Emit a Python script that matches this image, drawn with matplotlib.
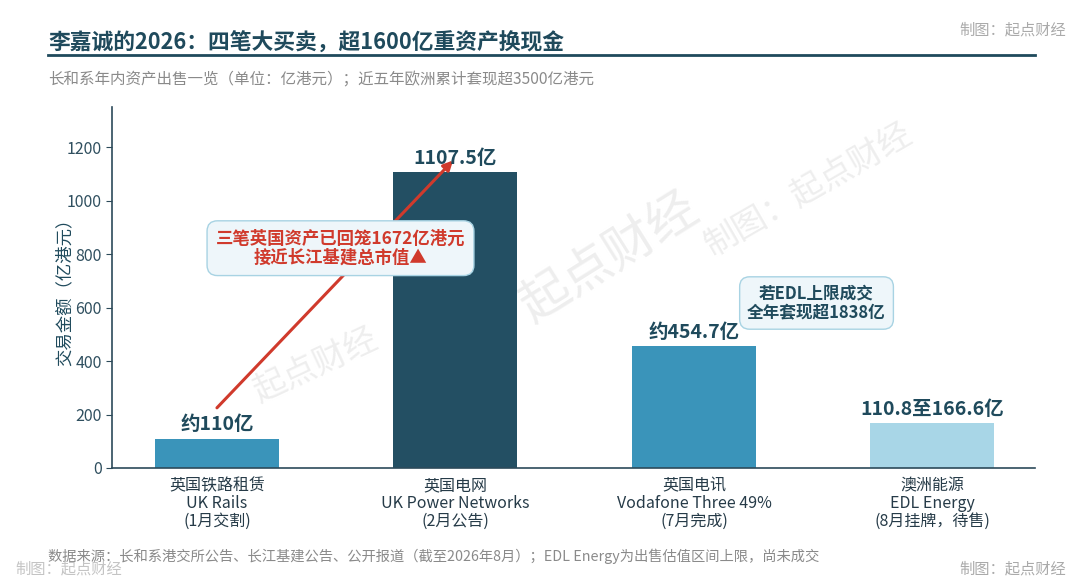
import matplotlib
matplotlib.use('Agg')

import matplotlib.pyplot as plt
from matplotlib.lines import Line2D

plt.rcParams['font.family'] = ['Noto Sans CJK SC', 'DejaVu Sans']

# data (亿港元)
categories = ["英国铁路租赁\nUK Rails\n(1月交割)",
              "英国电网\nUK Power Networks\n(2月公告)",
              "英国电讯\nVodafone Three 49%\n(7月完成)",
              "澳洲能源\nEDL Energy\n(8月挂牌，待售)"]
values = [110, 1107.5, 454.7, 166.6]
value_labels = ["约110亿", "1107.5亿", "约454.7亿", "110.8至166.6亿"]
bar_colors = ["#3a94ba", "#234f63", "#3a94ba", "#a8d6e7"]

dark = "#1f4a5c"
W, H = 1080, 583


def fx(x):
    return x / W


def fy(y):
    return 1 - y / H


fig = plt.figure(figsize=(10.8, 5.83), dpi=100)
ax = fig.add_axes([fx(112), fy(468), fx(1035) - fx(112), fy(107) - fy(468)])

xs = list(range(len(values)))
ax.bar(xs, values, width=0.52, color=bar_colors, zorder=2)

ax.set_xlim(-0.44, 3.43)
ax.set_ylim(0, 1350)
ax.set_yticks(range(0, 1201, 200))
ax.set_xticks(xs)
ax.set_xticklabels(categories, fontsize=11.5, color="#263b48", linespacing=1.05)
ax.tick_params(axis='x', length=0, pad=7)
ax.tick_params(axis='y', labelsize=11.5, labelcolor="#2f4f5f", color="#2c4a5a", length=4)
for s in ['top', 'right']:
    ax.spines[s].set_visible(False)
for s in ['left', 'bottom']:
    ax.spines[s].set_color("#2c4a5a")
    ax.spines[s].set_linewidth(1.2)
ax.set_ylabel("交易金额（亿港元）", fontsize=12.5, color=dark)
ax.yaxis.set_label_coords(-0.042, 0.5)

# value labels
for x, v, lab in zip(xs, values, value_labels):
    ax.annotate(lab, (x, v), xytext=(0, 3), textcoords='offset points',
                ha='center', va='bottom', fontsize=14, fontweight='bold',
                color=dark, zorder=5)

# watermarks
wm = "#eeeeee"
ax.text(fx(315), fy(365), "起点财经", transform=fig.transFigure, rotation=25,
        fontsize=24, color=wm, ha='center', va='center', zorder=0.5)
ax.text(fx(610), fy(257), "起点财经", transform=fig.transFigure, rotation=32,
        fontsize=36, color=wm, ha='center', va='center', zorder=0.5)
ax.text(fx(808), fy(190), "制图：起点财经", transform=fig.transFigure, rotation=30,
        fontsize=24, color=wm, ha='center', va='center', zorder=0.5)

# arrow + callout
ax.annotate("", xy=(0.99, 1150), xytext=(0.0, 225),
            arrowprops=dict(arrowstyle='-|>', color="#d03a2c", lw=2.2,
                            mutation_scale=14, shrinkA=0, shrinkB=0),
            zorder=3)
ax.text(0.518, 822, "三笔英国资产已回笼1672亿港元\n接近长江基建总市值▲",
        ha='center', va='center', fontsize=12.5, fontweight='bold',
        color="#d03a2c", linespacing=1.1, zorder=4,
        bbox=dict(boxstyle='round,pad=0.5,rounding_size=0.6',
                  fc="#eef6fa", ec="#a8d3e3", lw=1))
ax.text(2.514, 617, "若EDL上限成交\n全年套现超1838亿",
        ha='center', va='center', fontsize=12, fontweight='bold',
        color=dark, linespacing=1.1, zorder=4,
        bbox=dict(boxstyle='round,pad=0.45,rounding_size=0.6',
                  fc="#eef6fa", ec="#a8d3e3", lw=1))

# titles and notes
fig.text(fx(48), fy(43), "李嘉诚的2026：四笔大买卖，超1600亿重资产换现金",
         fontsize=15.7, fontweight='bold', color=dark, ha='left', va='center')
fig.add_artist(Line2D([fx(48), fx(1035)], [fy(55), fy(55)],
                      transform=fig.transFigure, color=dark, lw=2))
fig.text(fx(48), fy(79), "长和系年内资产出售一览（单位：亿港元）；近五年欧洲累计套现超3500亿港元",
         fontsize=11.2, color="#8a8a8a", ha='left', va='center')
fig.text(fx(1066), fy(30), "制图：起点财经", fontsize=11, color="#aaaaaa",
         ha='right', va='center')
fig.text(fx(48), fy(556),
         "数据来源：长和系港交所公告、长江基建公告、公开报道（截至2026年8月）；EDL Energy为出售估值区间上限，尚未成交",
         fontsize=10.3, color="#8a8a8a", ha='left', va='center')
fig.text(fx(15), fy(569), "制图：起点财经", fontsize=11, color="#c4c4c4",
         ha='left', va='center')
fig.text(fx(1066), fy(569), "制图：起点财经", fontsize=11, color="#aaaaaa",
         ha='right', va='center')

fig.savefig("out.png", dpi=100)
